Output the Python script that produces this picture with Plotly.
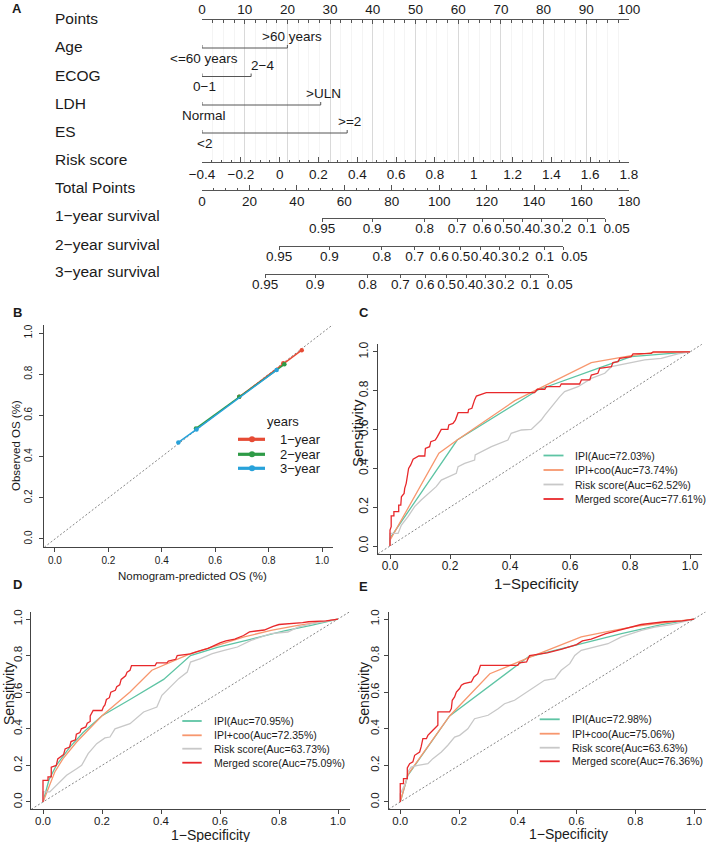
import plotly.graph_objects as go

# ======================= DATA =======================
# ---- Panel A : nomogram ----
row_labels = ["Points", "Age", "ECOG", "LDH", "ES", "Risk score", "Total Points",
              "1−year survival", "2−year survival", "3−year survival"]
age_levels = ["<=60 years", ">60 years"]
age_points = [0, 20]
ecog_levels = ["0−1", "2−4"]
ecog_points = [0, 11.5]
ldh_levels = ["Normal", ">ULN"]
ldh_points = [0, 27.8]
es_levels = ["<2", ">=2"]
es_points = [0, 34.0]
points_ticks = [0, 10, 20, 30, 40, 50, 60, 70, 80, 90, 100]
risk_ticks = [-0.4, -0.2, 0, 0.2, 0.4, 0.6, 0.8, 1.0, 1.2, 1.4, 1.6, 1.8]
total_ticks = [0, 20, 40, 60, 80, 100, 120, 140, 160, 180]
surv_labels = ["0.95", "0.9", "0.8", "0.7", "0.6", "0.5", "0.4", "0.3", "0.2", "0.1", "0.05"]
surv1_total = [50.6, 71.7, 93.8, 107.5, 118.1, 127.0, 135.3, 143.3, 151.8, 162.3, 170.0]
surv2_total = [32.5, 53.7, 75.8, 89.6, 100.1, 109.1, 117.3, 125.4, 133.9, 144.4, 152.2]
surv3_total = [26.6, 47.7, 69.8, 83.6, 94.1, 103.1, 111.3, 119.3, 127.8, 138.3, 146.0]

# ---- Panel B : calibration ----
cal_names = ["1−year", "2−year", "3−year"]
cal1_pred = [0.69, 0.855, 0.924]
cal1_obs = [0.69, 0.853, 0.917]
cal2_pred = [0.528, 0.69, 0.859]
cal2_obs = [0.537, 0.691, 0.848]
cal3_pred = [0.462, 0.53, 0.83]
cal3_obs = [0.469, 0.532, 0.82]

# ---- ROC legend ----
roc_names = ["IPI", "IPI+coo", "Risk score", "Merged score"]
c_auc = ["72.03", "73.74", "62.52", "77.61"]
d_auc = ["70.95", "72.35", "63.73", "75.09"]
e_auc = ["72.98", "75.06", "63.63", "76.36"]

# ---- Panel C ----
c_ipi_fpr = [0, 0, 0.224, 0.493, 0.693, 0.804, 1.0]
c_ipi_tpr = [0, 0.04, 0.546, 0.804, 0.916, 0.976, 1.0]
c_coo_fpr = [0, 0, 0.163, 0.224, 0.416, 0.52, 0.671, 0.804, 0.871, 1.0]
c_coo_tpr = [0, 0.03, 0.478, 0.546, 0.749, 0.83, 0.945, 0.981, 0.997, 1.0]
c_risk_fpr = [0, 0, 0.027, 0.038, 0.06, 0.082, 0.104, 0.127, 0.154, 0.171, 0.193, 0.221, 0.227,
              0.249, 0.282, 0.284, 0.338, 0.393, 0.404, 0.438, 0.471, 0.504, 0.516, 0.538, 0.566,
              0.582, 0.627, 0.671, 0.716, 0.738, 0.793, 0.849, 0.904, 0.96, 1.0]
c_risk_tpr = [0, 0.065, 0.065, 0.108, 0.151, 0.203, 0.237, 0.271, 0.306, 0.34, 0.357, 0.375, 0.409,
              0.426, 0.443, 0.469, 0.512, 0.546, 0.581, 0.598, 0.601, 0.649, 0.675, 0.718, 0.77,
              0.796, 0.821, 0.864, 0.89, 0.924, 0.942, 0.959, 0.967, 0.99, 1.0]
c_merged_fpr = [0, 0, 0.004, 0.004, 0.013, 0.013, 0.029, 0.029, 0.036, 0.038, 0.047, 0.049, 0.054,
                0.058, 0.062, 0.069, 0.077, 0.096, 0.116, 0.118, 0.132, 0.136, 0.151, 0.158, 0.166,
                0.171, 0.193, 0.196, 0.21, 0.218, 0.227, 0.26, 0.262, 0.273, 0.282, 0.288, 0.321,
                0.482, 0.491, 0.516, 0.521, 0.566, 0.571, 0.632, 0.638, 0.666, 0.671, 0.693, 0.699,
                0.738, 0.743, 0.76, 0.766, 0.804, 0.81, 0.871, 0.877, 1.0]
c_merged_tpr = [0, 0.082, 0.10, 0.155, 0.155, 0.177, 0.177, 0.211, 0.211, 0.254, 0.271, 0.297, 0.323,
                0.375, 0.40, 0.418, 0.447, 0.464, 0.464, 0.503, 0.512, 0.538, 0.546, 0.564, 0.589,
                0.601, 0.601, 0.624, 0.632, 0.649, 0.687, 0.687, 0.704, 0.71, 0.753, 0.773, 0.79,
                0.79, 0.808, 0.808, 0.821, 0.821, 0.835, 0.835, 0.856, 0.856, 0.881, 0.89, 0.916,
                0.924, 0.945, 0.95, 0.967, 0.976, 0.99, 0.993, 1.0, 1.0]

# ---- Panel D ----
d_ipi_fpr = [0, 0.02, 0.045, 0.091, 0.136, 0.199, 0.295, 0.409, 0.5, 0.591, 0.693, 0.818, 0.909, 1.0]
d_ipi_tpr = [0, 0.12, 0.2, 0.3, 0.38, 0.47, 0.56, 0.67, 0.8, 0.845, 0.885, 0.935, 0.965, 1.0]
d_coo_fpr = [0, 0.017, 0.04, 0.068, 0.114, 0.199, 0.295, 0.369, 0.432, 0.5, 0.591, 0.682, 0.773, 0.864, 0.955, 1.0]
d_coo_tpr = [0, 0.073, 0.164, 0.237, 0.328, 0.47, 0.601, 0.72, 0.765, 0.811, 0.856, 0.902, 0.938, 0.965, 0.987, 1.0]
d_risk_fpr = [0, 0, 0.023, 0.034, 0.057, 0.08, 0.114, 0.131, 0.153, 0.182, 0.21, 0.227, 0.244, 0.295,
              0.341, 0.386, 0.403, 0.432, 0.46, 0.489, 0.5, 0.534, 0.574, 0.614, 0.659, 0.705, 0.773,
              0.83, 0.864, 0.909, 0.955, 1.0]
d_risk_tpr = [0, 0.055, 0.055, 0.073, 0.109, 0.146, 0.182, 0.2, 0.264, 0.319, 0.35, 0.355, 0.4, 0.428,
              0.492, 0.519, 0.583, 0.628, 0.674, 0.71, 0.765, 0.783, 0.811, 0.829, 0.847, 0.883, 0.92,
              0.929, 0.956, 0.974, 0.987, 1.0]
d_merged_fpr = [0, 0, 0.017, 0.017, 0.028, 0.028, 0.045, 0.05, 0.07, 0.075, 0.09, 0.095, 0.11, 0.113,
                0.125, 0.13, 0.145, 0.15, 0.16, 0.16, 0.17, 0.2, 0.205, 0.21, 0.215, 0.225, 0.23, 0.245,
                0.25, 0.26, 0.265, 0.28, 0.285, 0.295, 0.3, 0.38, 0.385, 0.42, 0.425, 0.45, 0.455, 0.5,
                0.52, 0.56, 0.6, 0.62, 0.65, 0.68, 0.7, 0.75, 0.78, 0.8, 0.88, 0.9, 0.96, 1.0]
d_merged_tpr = [0, 0.118, 0.118, 0.137, 0.137, 0.19, 0.2, 0.235, 0.26, 0.29, 0.30, 0.33, 0.34, 0.37,
                0.38, 0.40, 0.41, 0.43, 0.44, 0.47, 0.50, 0.50, 0.52, 0.53, 0.56, 0.57, 0.60, 0.61,
                0.63, 0.64, 0.67, 0.69, 0.71, 0.72, 0.745, 0.745, 0.76, 0.76, 0.77, 0.78, 0.80, 0.81,
                0.82, 0.84, 0.87, 0.88, 0.89, 0.91, 0.93, 0.94, 0.96, 0.97, 0.98, 0.985, 0.99, 1.0]

# ---- Panel E ----
e_ipi_fpr = [0, 0.026, 0.168, 0.435, 0.594, 0.753, 0.889, 1.0]
e_ipi_tpr = [0, 0.146, 0.47, 0.792, 0.856, 0.92, 0.969, 1.0]
e_coo_fpr = [0, 0.026, 0.168, 0.305, 0.44, 0.616, 0.7, 0.8, 0.9, 1.0]
e_coo_tpr = [0, 0.15, 0.47, 0.701, 0.79, 0.902, 0.93, 0.96, 0.98, 1.0]
e_risk_fpr = [0, 0, 0.009, 0.02, 0.026, 0.037, 0.06, 0.094, 0.111, 0.14, 0.162, 0.185, 0.202, 0.23,
              0.253, 0.299, 0.333, 0.355, 0.389, 0.423, 0.457, 0.491, 0.526, 0.548, 0.577, 0.594,
              0.616, 0.662, 0.707, 0.753, 0.821, 0.866, 0.923, 1.0]
e_risk_tpr = [0, 0.046, 0.073, 0.109, 0.164, 0.191, 0.2, 0.209, 0.237, 0.273, 0.31, 0.355, 0.364, 0.4,
              0.455, 0.474, 0.51, 0.537, 0.556, 0.592, 0.628, 0.665, 0.674, 0.72, 0.756, 0.801,
              0.829, 0.847, 0.865, 0.902, 0.938, 0.956, 0.969, 1.0]
e_merged_fpr = [0, 0, 0.011, 0.011, 0.024, 0.024, 0.032, 0.043, 0.049, 0.066, 0.071, 0.077, 0.089,
                0.094, 0.111, 0.117, 0.128, 0.128, 0.168, 0.174, 0.177, 0.185, 0.191, 0.202, 0.208,
                0.217, 0.242, 0.251, 0.264, 0.273, 0.40, 0.405, 0.43, 0.44, 0.5, 0.55, 0.6, 0.62,
                0.65, 0.7, 0.75, 0.78, 0.82, 0.9, 0.96, 1.0]
e_merged_tpr = [0, 0.1, 0.1, 0.128, 0.128, 0.186, 0.209, 0.219, 0.255, 0.273, 0.301, 0.346, 0.346,
                0.364, 0.392, 0.401, 0.419, 0.492, 0.492, 0.51, 0.556, 0.574, 0.601, 0.62, 0.638,
                0.647, 0.656, 0.683, 0.701, 0.747, 0.747, 0.76, 0.765, 0.80, 0.815, 0.835, 0.86, 0.88,
                0.89, 0.92, 0.94, 0.955, 0.97, 0.985, 0.99, 1.0]

# ======================= STYLE / LAYOUT =======================
W, H = 708, 842
FONT = "Liberation Sans, Arial, sans-serif"
TXT = "#1a1a1a"
AX = "#555555"
COL_IPI, COL_COO, COL_RISK, COL_MRG = "#5EC4A4", "#F7976E", "#C8C8C8", "#E8282B"
CAL_COLS = ["#E64B35", "#2E9B47", "#28A2DA"]
NBSP = "\u00a0"


def PX(x):
    return x / W


def PY(y):
    return 1 - y / H


fig = go.Figure()
annotations = []
shapes = []


def txt(x, y, s, size, xanchor="center", xref="paper", yref="paper", bold=False, angle=0, **kw):
    annotations.append(dict(x=x, y=y, text=("<b>%s</b>" % s) if bold else s, xref=xref, yref=yref,
                            showarrow=False, xanchor=xanchor, yanchor="middle", textangle=angle,
                            font=dict(family=FONT, size=size, color=TXT), **kw))


# ---------------- Panel A ----------------
NX0, NX1 = 202, 629
row_label_y = [19, 47, 76, 104, 132, 160, 188, 216, 244, 272]
for lab, yy in zip(row_labels, row_label_y):
    txt(PX(53), PY(yy), lab, 15.5, xanchor="left")

cat_vars = [(age_levels, age_points), (ecog_levels, ecog_points),
            (ldh_levels, ldh_points), (es_levels, es_points)]
cat_rows = [48, 76.5, 105, 133]
hi_shift = [5, 11, 3, 2.5]
xs, ys = [], []
for (levels, pts), row, sh in zip(cat_vars, cat_rows, hi_shift):
    xs += [min(pts), max(pts), None]
    ys += [row, row, None]
    for p in pts:
        xs += [p, p, None]
        ys += [row, row - 3, None]
    txt(pts[0], row + 10.5, levels[0], 13.5, xref="x", yref="y", xshift=2)
    txt(pts[1], row - 11, levels[1], 13.5, xref="x", yref="y", xshift=sh)
fig.add_trace(go.Scatter(x=xs, y=ys, mode="lines", line=dict(color=AX, width=1),
                         xaxis="x", yaxis="y", hoverinfo="skip", showlegend=False))

base_ax = dict(showline=True, linecolor=AX, linewidth=1, tickcolor=AX, tickwidth=1,
               zeroline=False, showgrid=False, tickangle=0, automargin=False,
               tickfont=dict(family=FONT, size=13.5, color=TXT))

layout_axes = {}
layout_axes["xaxis"] = dict(base_ax, domain=[PX(NX0), PX(NX1)], range=[0, 100], side="top", anchor="y",
                            tickmode="array", tickvals=points_ticks, ticks="inside", ticklen=4,
                            showgrid=True, gridcolor="#d9d9d9", gridwidth=1,
                            minor=dict(dtick=2.5, tick0=0, ticks="inside", ticklen=2.5, tickcolor=AX,
                                       showgrid=True, gridcolor="#f4f4f4", gridwidth=1))
layout_axes["yaxis"] = dict(domain=[PY(162), PY(20)], range=[162, 20], visible=False, automargin=False,
                            showgrid=False, zeroline=False)


def fmt(v):
    s = ("%g" % round(v, 2))
    return s.replace("-", "−")


layout_axes["xaxis2"] = dict(base_ax, domain=[PX(NX0), PX(NX1)], range=[risk_ticks[0], risk_ticks[-1]],
                             anchor="free", position=PY(162), side="bottom",
                             tickmode="array", tickvals=risk_ticks, ticktext=[fmt(v) for v in risk_ticks],
                             ticks="inside", ticklen=5,
                             minor=dict(dtick=0.05, tick0=-0.4, ticks="inside", ticklen=2.5, tickcolor=AX))
layout_axes["xaxis3"] = dict(base_ax, domain=[PX(NX0), PX(NX1)], range=[total_ticks[0], total_ticks[-1]],
                             anchor="free", position=PY(190), side="bottom", ticklabelstandoff=-1,
                             tickmode="array", tickvals=total_ticks, ticks="inside", ticklen=5,
                             minor=dict(dtick=5, tick0=0, ticks="inside", ticklen=2.5, tickcolor=AX))
fig.add_trace(go.Scatter(x=[risk_ticks[0], risk_ticks[-1]], y=[100, 100], mode="lines", line=dict(width=0),
                         xaxis="x2", yaxis="y", hoverinfo="skip", showlegend=False))
fig.add_trace(go.Scatter(x=[total_ticks[0], total_ticks[-1]], y=[100, 100], mode="lines", line=dict(width=0),
                         xaxis="x3", yaxis="y", hoverinfo="skip", showlegend=False))


def tp_px(tp):
    return NX0 + tp / 180.0 * (NX1 - NX0)


# last survival label is drawn shifted to the right of its tick (as in the original)
surv_text = surv_labels[:-1] + [NBSP * 6 + surv_labels[-1]]
for i, (vals, row) in enumerate([(surv1_total, 218), (surv2_total, 246), (surv3_total, 274)]):
    name = "xaxis%d" % (4 + i)
    a, b = vals[0] - 0.05, vals[-1] + 0.05
    layout_axes[name] = dict(base_ax, domain=[PX(tp_px(a)), PX(tp_px(b))], range=[a, b],
                             anchor="free", position=PY(row), side="bottom", ticklabelstandoff=-5,
                             tickmode="array", tickvals=vals, ticktext=surv_text,
                             ticks="outside", ticklen=3)
    fig.add_trace(go.Scatter(x=[a, b], y=[100, 100], mode="lines", line=dict(width=0),
                             xaxis="x%d" % (4 + i), yaxis="y", hoverinfo="skip", showlegend=False))


# ---------------- Panel B ----------------
def panel_axes(n, x0, x1, y0, y1, tsize, tlen, standoff):
    common = dict(showline=True, linecolor="#444444", linewidth=1, ticks="outside", ticklen=tlen,
                  tickcolor="#444444", zeroline=False, showgrid=False, range=[-0.04, 1.04],
                  automargin=False, ticklabelstandoff=standoff,
                  tickmode="array", tickvals=[0, 0.2, 0.4, 0.6, 0.8, 1.0],
                  ticktext=["0.0", "0.2", "0.4", "0.6", "0.8", "1.0"],
                  tickfont=dict(family=FONT, size=tsize, color=TXT))
    layout_axes["xaxis%d" % n] = dict(common, domain=[PX(x0), PX(x1)], anchor="y%d" % n, tickangle=0)
    layout_axes["yaxis%d" % n] = dict(common, domain=[PY(y1), PY(y0)], anchor="x%d" % n, tickangle=-90)


panel_axes(7, 44.3, 332.7, 324.8, 547.2, 10, 4, 0)
layout_axes["yaxis7"]["ticklabelstandoff"] = 3
fig.add_trace(go.Scatter(x=[-0.04, 1.04], y=[-0.04, 1.04], mode="lines",
                         line=dict(color="#777777", width=0.9, dash="2px,2px"),
                         xaxis="x7", yaxis="y7", hoverinfo="skip", showlegend=False))
for (xp, yo), col in zip([(cal1_pred, cal1_obs), (cal2_pred, cal2_obs), (cal3_pred, cal3_obs)], CAL_COLS):
    fig.add_trace(go.Scatter(x=xp, y=yo, mode="lines+markers", line=dict(color=col, width=1.5),
                             marker=dict(color=col, size=4.5), xaxis="x7", yaxis="y7",
                             hoverinfo="skip", showlegend=False))
txt(PX(16), PY(446), "Observed OS (%)", 11.5, angle=-90)
txt(PX(192), PY(576), "Nomogram-predicted OS (%)", 11.5)
txt(PX(265), PY(421), "years", 13, xanchor="left")
for i, (nm, col) in enumerate(zip(cal_names, CAL_COLS)):
    yy = [439.3, 454.3, 468.3][i]
    shapes.append(dict(type="line", xref="paper", yref="paper", x0=PX(238), x1=PX(265),
                       y0=PY(yy), y1=PY(yy), line=dict(color=col, width=3.2)))
    shapes.append(dict(type="circle", xref="paper", yref="paper", x0=PX(249), x1=PX(255),
                       y0=PY(yy + 3), y1=PY(yy - 3), fillcolor=col, line=dict(color=col, width=0)))
    txt(PX(278), PY(yy), nm, 13, xanchor="left")

# ---------------- Panels C, D, E ----------------
roc_sets = [
    (8, (378, 702, 344.2, 553.8), [(c_ipi_fpr, c_ipi_tpr), (c_coo_fpr, c_coo_tpr),
                                   (c_risk_fpr, c_risk_tpr), (c_merged_fpr, c_merged_tpr)], c_auc,
     dict(lx0=543.5, lx1=563.5, tx=573, rows=[455.5, 470, 484.5, 499], sens=(357, 433), spec=(536, 583),
          fs=15, tfs=12)),
    (9, (31.2, 349.8, 611.7, 809.3), [(d_ipi_fpr, d_ipi_tpr), (d_coo_fpr, d_coo_tpr),
                                      (d_risk_fpr, d_risk_tpr), (d_merged_fpr, d_merged_tpr)], d_auc,
     dict(lx0=182.3, lx1=201.7, tx=211.7, rows=[721, 735.3, 748.7, 762.7], sens=(9, 694), spec=(210, 834.5),
          fs=14, tfs=11.5)),
    (10, (388.5, 705.8, 611.7, 809.3), [(e_ipi_fpr, e_ipi_tpr), (e_coo_fpr, e_coo_tpr),
                                        (e_risk_fpr, e_risk_tpr), (e_merged_fpr, e_merged_tpr)], e_auc,
     dict(lx0=539.7, lx1=559.7, tx=569.7, rows=[719.3, 733.7, 747.7, 761.3], sens=(364, 694), spec=(568, 834),
          fs=14, tfs=11.5)),
]
roc_cols = [COL_IPI, COL_COO, COL_RISK, COL_MRG]
for n, (x0, x1, y0, y1), curves, aucs, lg in roc_sets:
    panel_axes(n, x0, x1, y0, y1, lg["tfs"], 4, -3)
    layout_axes["yaxis%d" % n]["ticklabelstandoff"] = 0
    fig.add_trace(go.Scatter(x=[-0.04, 1.04], y=[-0.04, 1.04], mode="lines",
                             line=dict(color="#777777", width=0.9, dash="2px,2px"),
                             xaxis="x%d" % n, yaxis="y%d" % n, hoverinfo="skip", showlegend=False))
    for (fx, ty), col in zip(curves, roc_cols):
        fig.add_trace(go.Scatter(x=fx, y=ty, mode="lines", line=dict(color=col, width=1.3),
                                 xaxis="x%d" % n, yaxis="y%d" % n, hoverinfo="skip", showlegend=False))
    for nm, auc, col, yy in zip(roc_names, aucs, roc_cols, lg["rows"]):
        shapes.append(dict(type="line", xref="paper", yref="paper", x0=PX(lg["lx0"]), x1=PX(lg["lx1"]),
                           y0=PY(yy), y1=PY(yy), line=dict(color=col, width=1.8)))
        txt(PX(lg["tx"]), PY(yy), "%s(Auc=%s%%)" % (nm, auc), 10.5, xanchor="left")
    txt(PX(lg["sens"][0]), PY(lg["sens"][1]), "Sensitivity", lg["fs"], angle=-90)
    txt(PX(lg["spec"][0]), PY(lg["spec"][1]), "1−Specificity", lg["fs"])

# Panel letters
for letter, (lx, ly) in zip("ABCDE", [(17, 8), (17, 312), (364, 312), (17, 584), (363, 586)]):
    txt(PX(lx), PY(ly), letter, 13, bold=True)

fig.update_layout(template="none", width=W, height=H, autosize=False, margin=dict(l=0, r=0, t=0, b=0, pad=0),
                  paper_bgcolor="white", plot_bgcolor="rgba(0,0,0,0)", showlegend=False,
                  annotations=annotations, shapes=shapes, font=dict(family=FONT, color=TXT),
                  **layout_axes)
fig.write_html("out.html", config={"displayModeBar": False, "staticPlot": True},
               post_script="document.body.style.margin='0px';")
